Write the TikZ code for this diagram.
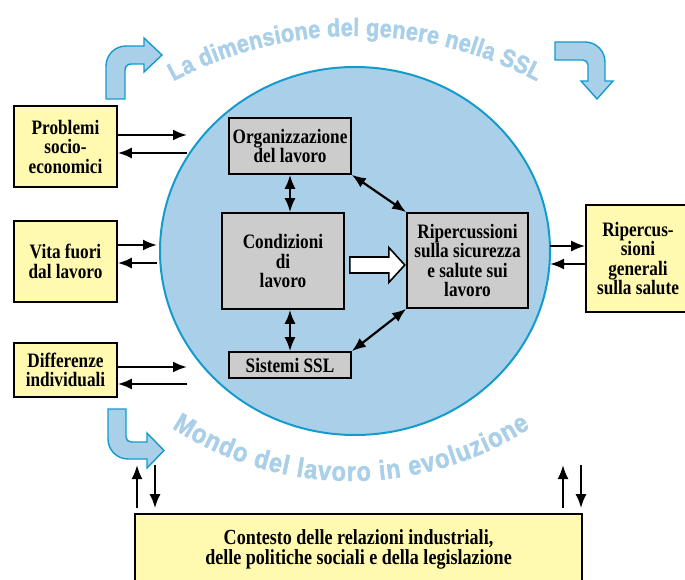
\documentclass[tikz,border=0pt]{standalone}
\usepackage{fontspec}
\setmainfont{Liberation Serif}[FakeStretch=0.84]
\newfontfamily\arcfont{Liberation Sans Bold}[FakeBold=1.8,FakeStretch=0.87]
\usetikzlibrary{scopes,calc,arrows.meta,decorations.text}
\definecolor{sky}{RGB}{169,208,232}
\definecolor{rim}{RGB}{20,155,205}
\definecolor{pale}{RGB}{255,250,176}
\definecolor{core}{RGB}{204,204,204}

\begin{document}
\begin{tikzpicture}[
    x=1pt,y=1pt,
    lbl/.style={font=\bfseries\fontsize{20.5}{19.5}\selectfont,align=center},
    ext/.style={lbl,rectangle,draw=black,fill=pale,line width=1.6pt,inner sep=1pt},
    int/.style={lbl,rectangle,draw=black,fill=core,line width=1.6pt,inner sep=1pt},
    lnk/.style={>={Latex[length=14pt,width=11pt]},draw=black,line width=2.2pt},
    turn/.style={draw=rim,fill=sky,line width=1.4pt},
]
    \useasboundingbox (0,0) rectangle (685,579);
    \draw[draw=rim,fill=sky,line width=2pt] (355,328) ellipse [x radius=195pt,y radius=184pt];

    \node[ext,minimum width=103pt,minimum height=81pt] (prob) at (65.5,432.5) {Problemi\\socio-\\economici};
    \node[ext,minimum width=103pt,minimum height=81pt] (vita) at (65.5,317.5) {Vita fuori\\dal lavoro};
    \node[ext,minimum width=103pt,minimum height=54pt] (diff) at (65.5,209) {Differenze\\individuali};
    \node[int,minimum width=122pt,minimum height=56pt] (org) at (290,433) {Organizzazione\\del lavoro};
    \node[int,minimum width=122pt,minimum height=96pt] (cond) at (283,318) {Condizioni\\di\\lavoro};
    \node[int,minimum width=122pt,minimum height=26pt] (sist) at (290,214) {Sistemi SSL};
    \node[int,minimum width=121pt,minimum height=95pt] (rip) at (467.5,318.5) {Ripercussioni\\sulla sicurezza\\e salute sui\\lavoro};
    \node[ext,minimum width=104pt,minimum height=107pt] (gen) at (638,320.5) {Ripercus-\\sioni\\generali\\sulla salute};
    \node[ext,minimum width=447pt,minimum height=86pt] (cont) at (358.5,22) {};
    \node[lbl,font=\bfseries\fontsize{21.5}{20}\selectfont] (ctx) at (358.5,30) {Contesto delle relazioni industriali,\\delle politiche sociali e della legislazione};

    \coordinate (probin) at (187,444);
    \coordinate (probout) at (187,426);
    \coordinate (vitain) at (157,334);
    \coordinate (vitaout) at (157,316);
    \coordinate (diffin) at (187,212);
    \coordinate (diffout) at (187,195);
    \coordinate (genin) at (550,333);
    \coordinate (genout) at (550,315);
    \coordinate (lu) at (137,114);
    \coordinate (ld) at (155,114);
    \coordinate (ru) at (563,114);
    \coordinate (rd) at (581,114);

    {[lnk,->]
        \draw (prob.east |- probin) -- (probin);
        \draw (probout) -- (prob.east |- probout);
        \draw (vita.east |- vitain) -- (vitain);
        \draw (vitaout) -- (vita.east |- vitaout);
        \draw (diff.east |- diffin) -- (diffin);
        \draw (diffout) -- (diff.east |- diffout);
        \draw (genin) -- (gen.west |- genin);
        \draw (gen.west |- genout) -- (genout);
        \draw ([yshift=5pt]cont.north -| lu) -- (lu);
        \draw (ld) -- ([yshift=5pt]cont.north -| ld);
        \draw ([yshift=5pt]cont.north -| ru) -- (ru);
        \draw (rd) -- ([yshift=5pt]cont.north -| rd);
    }
    {[lnk,<->]
        \draw (org.south) -- (org.south |- cond.north);
        \draw (sist.north |- cond.south) -- (sist.north);
        \draw (org.south east) -- (rip.north west);
        \draw (sist.north east) -- (rip.south west);
    }
    \draw[draw=black,fill=white,line width=1.6pt] ($(cond.east)+(5,-12)$) -- ++(39,0) -- ++(0,-9.5) -- ++(16,17.5) -- ++(-16,17.5) -- ++(0,-9.5) -- ++(-39,0) -- cycle;

    \draw[turn] (106,480) -- (106,513) arc[start angle=180,end angle=90,radius=20pt] -- (144,533) -- (144,541) -- (162,524) -- (144,507) -- (144,515) -- (131,515) arc[start angle=90,end angle=180,radius=6pt] -- (125,480) -- cycle;
    \draw[turn] (555,537) -- (585,537) arc[start angle=90,end angle=0,radius=20pt] -- (605,498) -- (613,498) -- (597,480) -- (581,498) -- (588,498) -- (588,514) arc[start angle=0,end angle=90,radius=5pt] -- (555,519) -- cycle;
    \draw[turn] (108,170) -- (108,140) arc[start angle=180,end angle=270,radius=20pt] -- (147,120) -- (147,111) -- (164,128.5) -- (147,146) -- (147,137) -- (131,137) arc[start angle=270,end angle=180,radius=5pt] -- (126,170) -- cycle;

    \path[decorate,decoration={text along path,text align={fit to path},
        text={|\arcfont\fontsize{25}{25}\selectfont\color{sky}|La dimensione del genere nella SSL}}]
        ($(355,156)+(118:387pt)$) arc[start angle=118,end angle=62,radius=387pt];
    \path[decorate,decoration={text along path,text align={fit to path},
        text={|\arcfont\fontsize{27}{27}\selectfont\color{sky}|Mondo del lavoro in evoluzione}}]
        ($(351,427)+(237:329pt)$) arc[start angle=237,end angle=303,radius=329pt];
\end{tikzpicture}
\end{document}
